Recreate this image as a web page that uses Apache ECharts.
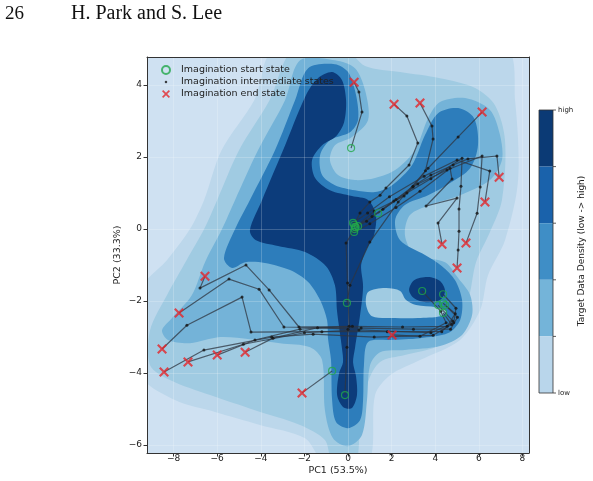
<!DOCTYPE html>
<html lang="en">
<head>
<meta charset="UTF-8">
<title>Imagination trajectories on PCA density</title>
<script src="https://cdn.jsdelivr.net/npm/echarts/dist/echarts.min.js"></script>
<style>
  html, body { margin: 0; background: #fff; }
  #chart { width: 593px; height: 481px; }
</style>
</head>
<body>
<div id="chart"></div>
<script>
// density contour regions (PC1, PC2), lowest level first
var contourBase = [[-9.6, -6.6], [8.7, -6.6], [8.7, 5.2], [-9.6, 5.2]];
var contourL1 = [[-3.3, 5.0], [7.2, 5.0], [7.66, 3.58], [7.8, 1.36], [7.2, -0.31], [6.42, -1.28], [6.06, -2.25], [5.14, -3.08], [3.3, -3.64], [1.93, -4.06], [1.24, -4.61], [0.92, -6.5], [-1.06, -6.5], [-1.97, -5.81], [-4.04, -5.44], [-6.1, -5.08], [-7.94, -4.75], [-9.5, -4.05], [-9.5, -1.69], [-8.3, -0.86], [-7.25, 0], [-6.6, 0.81], [-5.8, 2.19], [-4.3, 3.58]];
var contourL2 = [[-2.5, 5.0], [-0.14, 5.0], [0.78, 4.53], [2.39, 4.36], [4.22, 4.19], [5.83, 3.92], [6.74, 3.44], [7.2, 2.47], [7.06, 0.81], [6.51, -0.08], [5.87, -0.92], [5.6, -1.75], [5.23, -2.58], [4.22, -3.22], [2.61, -3.5], [1.47, -3.69], [0.92, -4.25], [0.55, -5.58], [0.32, -6.5], [-0.69, -6.5], [-1.06, -5.86], [-2.2, -5.44], [-4.27, -5.03], [-6.33, -4.61], [-8.17, -4.19], [-9.08, -3.78], [-9.08, -2.81], [-8.3, -1.83], [-7.4, -0.86], [-6.6, 0], [-6.0, 0.81], [-5.0, 2.19], [-3.6, 3.58]];
var contourL3 = [[-2.2, 4.69], [-0.6, 4.69], [0.32, 4.47], [0.78, 3.86], [0.92, 3.03], [0.18, 2.56], [-0.6, 2.33], [-0.83, 1.92], [-0.46, 1.5], [0.32, 1.36], [1.24, 1.42], [2.16, 1.64], [3.07, 2.19], [3.67, 3.08], [4.22, 3.53], [5.37, 3.64], [6.51, 3.31], [6.97, 2.61], [7.06, 1.92], [6.51, 1.36], [5.14, 0.94], [3.76, 0.67], [2.84, 0.39], [2.61, -0.17], [3.07, -0.72], [4.45, -0.92], [5.05, -1.36], [5.6, -1.83], [5.69, -2.39], [5.23, -2.94], [4.22, -3.25], [2.61, -3.36], [1.47, -3.42], [1.01, -3.78], [0.87, -4.75], [0.64, -5.72], [0, -6.03], [-0.69, -5.81], [-1.06, -5.03], [-1.19, -3.64], [-1.74, -3.28], [-3.12, -3.17], [-4.5, -3.06], [-5.87, -3.0], [-7.25, -3.17], [-8.26, -3.08], [-8.53, -2.81], [-8.07, -2.47], [-7.16, -1.83], [-6.56, -0.92], [-5.78, 0], [-5.18, 0.81], [-4.13, 2.19], [-2.89, 3.58]];
var contourL4 = [[-1.83, 4.47], [-0.6, 4.58], [0, 4.36], [0.37, 3.72], [0.46, 3.03], [0.09, 2.69], [-0.83, 2.47], [-1.28, 2.06], [-1.19, 1.5], [-0.6, 1.22], [0.32, 1.08], [1.24, 1.03], [2.02, 1.22], [2.94, 1.78], [3.53, 2.61], [4.13, 3.22], [5.05, 3.36], [5.78, 3.08], [5.96, 2.33], [5.6, 1.69], [4.68, 1.28], [3.67, 0.94], [2.61, 0.67], [2.16, 0.25], [2.39, -0.31], [3.53, -0.72], [4.31, -1.03], [4.91, -1.42], [5.23, -1.97], [5.14, -2.53], [4.59, -2.89], [3.3, -3.03], [1.93, -3.08], [0.92, -3.14], [0.73, -3.78], [0.69, -4.75], [0.55, -5.31], [0, -5.53], [-0.55, -5.36], [-0.73, -4.75], [-0.78, -3.64], [-0.92, -3.03], [-0.96, -2.53], [-1.28, -1.97], [-1.83, -1.47], [-2.66, -1.14], [-3.81, -0.94], [-4.72, -0.92], [-5.32, -1.08], [-5.69, -0.81], [-5.18, 0], [-4.5, 0.81], [-3.35, 2.19], [-2.43, 3.58]];
var gapHole = [[0.92, -1.75], [1.7, -1.64], [2.39, -1.72], [2.66, -1.97], [3.12, -2.11], [4.04, -2.17], [4.5, -2.28], [4.22, -2.42], [3.21, -2.47], [2.16, -2.47], [1.1, -2.42], [0.83, -2.11]];
var contourL5 = [[-1.38, 4.19], [-0.73, 4.36], [-0.28, 4.14], [-0.09, 3.58], [-0.18, 2.97], [-0.55, 2.58], [-1.19, 2.33], [-1.65, 1.92], [-1.51, 1.42], [-0.83, 1.08], [0.18, 0.92], [0.92, 0.81], [1.28, 0.39], [1.19, -0.17], [0.83, -0.58], [0.6, -1.0], [0.69, -1.6], [0.55, -2.4], [0.32, -3.3], [0.23, -3.7], [0.37, -4.1], [0.41, -4.61], [0.18, -4.97], [-0.23, -4.94], [-0.5, -4.61], [-0.41, -4.0], [-0.23, -3.7], [-0.28, -3.3], [-0.5, -2.3], [-0.6, -1.56], [-1.01, -1.03], [-1.97, -0.64], [-3.21, -0.47], [-4.22, -0.31], [-4.5, -0.03], [-3.94, 0.81], [-2.98, 2.19], [-1.93, 3.72]];
var navyHook = [[2.8, -1.69], [3.03, -1.42], [3.67, -1.33], [4.22, -1.44], [4.45, -1.72], [4.22, -1.97], [3.58, -2.03], [3.03, -1.92]];

// imagination trajectories: first point = start, last point = end
var trajA = [[0.14, 2.25], [0.64, 3.25], [0.5, 3.81], [0.28, 4.08]];
var trajU1 = [[0.28, 0.12], [0.55, 0.45], [1.0, 0.75], [1.47, 0.94], [1.74, 1.14], [2.8, 1.78], [3.2, 2.39], [2.7, 3.14], [2.11, 3.47]];
var trajU2 = [[0.35, 0.05], [1.2, 0.5], [2.57, 0.92], [2.98, 1.17], [3.55, 1.62], [3.9, 2.5], [3.85, 2.86], [3.3, 3.5]];
var trajL = [[-0.05, -2.05], [0.09, -1.56], [1.0, -0.36], [2.3, 0.75], [3.67, 1.69], [5.05, 2.56], [6.15, 3.25]];
var trajR1 = [[0.32, 0.06], [0.85, 0.22], [1.6, 0.55], [2.7, 1.0], [3.8, 1.4], [5.23, 1.97], [5.18, 1.19], [5.09, 0.56], [5.09, -0.06], [5.05, -0.58], [5.0, -1.08]];
var trajR2 = [[0.46, 0.08], [1.1, 0.35], [2.1, 0.78], [3.2, 1.25], [4.54, 1.64], [6.15, 2.03], [6.06, 1.17], [5.92, 0.44], [5.41, -0.39]];
var trajR3 = [[1.38, 0.44], [2.2, 0.82], [2.98, 1.19], [3.8, 1.5], [4.82, 1.78], [5.5, 1.95], [6.83, 2.03], [6.93, 1.44]];
var trajR4 = [[0.23, 0.17], [0.9, 0.45], [1.9, 0.9], [3.49, 1.47], [5.0, 1.92], [6.5, 1.61], [6.28, 0.75]];
var trajR5 = [[0.28, -0.08], [1.0, 0.15], [2.2, 0.6], [3.3, 1.05], [4.68, 1.69], [4.77, 1.39], [3.58, 0.64], [5.0, 0.86], [4.13, 0.17], [4.31, -0.42]];
var trajV1 = [[-0.14, -4.61], [-0.05, -3.28], [0.0, -2.78], [-1.4, -2.74], [-3.44, -3.03], [-4.72, -3.42]];
var trajV2 = [[0.3, 0.0], [-0.09, -0.39], [-0.02, -1.5], [0.05, -2.7], [-2.2, -2.78], [-4.27, -3.08], [-6.0, -3.5]];
var trajH1 = [[4.36, -2.06], [4.92, -2.35], [4.55, -2.7], [2.5, -2.72], [0.2, -2.7], [-2.25, -2.72], [-3.62, -1.69], [-4.68, -1.0], [-6.79, -1.64], [-6.56, -1.31]];
var trajH2 = [[4.45, -2.11], [5.02, -2.45], [4.7, -2.78], [3.0, -2.78], [0.6, -2.75], [-2.94, -2.72], [-4.08, -1.67], [-5.46, -1.39], [-7.75, -2.33]];
var trajH3 = [[4.13, -2.11], [4.8, -2.55], [4.3, -2.85], [1.8, -2.85], [-1.2, -2.85], [-4.45, -2.86], [-4.86, -1.89], [-7.39, -2.67], [-8.53, -3.33]];
var trajH4 = [[4.36, -2.33], [4.75, -2.65], [3.9, -2.95], [1.2, -3.0], [-1.6, -2.92], [-3.5, -3.0], [-6.61, -3.36], [-8.44, -3.97]];
var trajH5 = [[4.36, -1.81], [4.95, -2.2], [4.85, -2.6], [3.8, -2.88], [0.5, -2.8], [-2.0, -2.88], [-4.8, -3.2], [-7.34, -3.69]];
var trajH6 = [[3.4, -1.72], [4.25, -2.28], [4.5, -2.6], [3.3, -2.98], [2.02, -2.94]];
var trajB = [[-0.73, -3.94], [-2.11, -4.55]];

var trajectories = [trajA, trajU1, trajU2, trajL, trajR1, trajR2, trajR3, trajR4, trajR5,
  trajV1, trajV2, trajH1, trajH2, trajH3, trajH4, trajH5, trajH6, trajB];

var colorbarLevels = ['high', 'low'];

var startPts = trajectories.map(t => t[0]);
var endPts = trajectories.map(t => t[t.length - 1]);
var midPts = [];
trajectories.forEach(t => { midPts = midPts.concat(t.slice(1, t.length - 1)); });

var regions = [
  [contourBase, '#cfe1f2'],
  [contourL1, '#bcd7eb'],
  [contourL2, '#a0cbe2'],
  [contourL3, '#74b3d8'],
  [contourL4, '#2d7dbb'],
  [gapHole, '#a0cbe2'],
  [contourL5, '#0c3c7b'],
  [navyHook, '#0c3c7b']
];

var FONT = '"DejaVu Sans", sans-serif';
var xPath = 'path://M1.5,0 L5,3.5 L8.5,0 L10,1.5 L6.5,5 L10,8.5 L8.5,10 L5,6.5 L1.5,10 L0,8.5 L3.5,5 L0,1.5 Z';
var dotIcon = 'path://M5,5 m-1.6,0 a1.6,1.6 0 1,0 3.2,0 a1.6,1.6 0 1,0 -3.2,0 Z M0,0 L0.01,0 Z M10,10 L10.01,10 Z';

function fmtTick(v) {
  if (Math.abs(v / 2 - Math.round(v / 2)) > 1e-6) return '';
  return v < 0 ? '\u2212' + (-v) : '' + v;
}

var series = regions.map(function (r) {
  var pts = r[0], fill = r[1];
  return {
    type: 'custom', silent: true, z: -1, clip: true,
    data: [[pts[0][0], pts[0][1]]],
    renderItem: function (params, api) {
      return {
        type: 'polygon',
        shape: { points: pts.map(p => api.coord(p)), smooth: 0.3 },
        style: { fill: fill }
      };
    }
  };
});

trajectories.forEach(function (t) {
  series.push({
    type: 'line', data: t, showSymbol: false, silent: true, z: 3,
    lineStyle: { color: '#2f3640', width: 1.2, opacity: 0.75 }
  });
});

series.push({
  name: 'Imagination start state', type: 'scatter', data: startPts, z: 6,
  symbol: 'circle', symbolSize: 7,
  itemStyle: { color: 'rgba(0,0,0,0)', borderColor: '#22a84a', borderWidth: 1.2 }
});
series.push({
  name: 'Imagination intermediate states', type: 'scatter', data: midPts, z: 5,
  symbol: 'circle', symbolSize: 3,
  itemStyle: { color: '#151515' }
});
series.push({
  name: 'Imagination end state', type: 'scatter', data: endPts, z: 7,
  symbol: xPath, symbolSize: 10,
  itemStyle: { color: '#e3262b' }
});

// colorbar (matplotlib style)
var cbColors = ['#0b3a75', '#1a62ab', '#3f8ec6', '#74b4d9', '#b9d6eb'];
var cbTop = 110, cbH = 283, cbX = 539, cbW = 14;
var graphic = [];
cbColors.forEach(function (c, i) {
  graphic.push({ type: 'rect', shape: { x: cbX, y: cbTop + i * cbH / 5, width: cbW, height: cbH / 5 }, style: { fill: c } });
  graphic.push({ type: 'line', shape: { x1: cbX + cbW, y1: cbTop + i * cbH / 5, x2: cbX + cbW + 3, y2: cbTop + i * cbH / 5 }, style: { stroke: '#333', lineWidth: 0.8 } });
});
graphic.push({ type: 'line', shape: { x1: cbX + cbW, y1: cbTop + cbH, x2: cbX + cbW + 3, y2: cbTop + cbH }, style: { stroke: '#333', lineWidth: 0.8 } });
graphic.push({ type: 'rect', shape: { x: cbX, y: cbTop, width: cbW, height: cbH }, style: { fill: 'none', stroke: '#333', lineWidth: 0.8 } });
graphic.push({ type: 'text', x: cbX + cbW + 5, y: cbTop, style: { text: colorbarLevels[0], font: '7px ' + FONT, fill: '#222', verticalAlign: 'middle' } });
graphic.push({ type: 'text', x: cbX + cbW + 5, y: cbTop + cbH, style: { text: colorbarLevels[1], font: '7px ' + FONT, fill: '#222', verticalAlign: 'middle' } });
graphic.push({ type: 'text', x: 582, y: 251, rotation: Math.PI / 2, style: { text: 'Target Data Density (low -> high)', font: '9px ' + FONT, fill: '#222', align: 'center', verticalAlign: 'middle' } });
// page header
graphic.push({ type: 'text', x: 5, y: 14, style: { text: '26', font: '19px "Liberation Serif", serif', fill: '#111', verticalAlign: 'middle' } });
graphic.push({ type: 'text', x: 71, y: 14, style: { text: 'H. Park and S. Lee', font: '20px "Liberation Serif", serif', fill: '#111', verticalAlign: 'middle' } });

var axisCommon = {
  type: 'value',
  axisLine: { show: true, onZero: false, lineStyle: { color: '#333', width: 1 } },
  axisTick: { show: true, length: 3.5, lineStyle: { color: '#333' } },
  axisLabel: { fontSize: 9, color: '#222', fontFamily: FONT, formatter: fmtTick, showMinLabel: false, showMaxLabel: false },
  splitLine: { show: true, lineStyle: { color: 'rgba(255,255,255,0.25)', width: 0.8 } }
};

var chart = echarts.init(document.getElementById('chart'), null, { renderer: 'canvas' });
chart.setOption({
  animation: false,
  backgroundColor: '#fff',
  grid: { left: 147, right: 64, top: 57, bottom: 28, containLabel: false, outerBoundsMode: 'none' },
  legend: {
    orient: 'vertical', left: 156, top: 60, itemWidth: 20, itemHeight: 8, itemGap: 2,
    textStyle: { fontSize: 9.5, color: '#222', fontFamily: FONT },
    data: [
      { name: 'Imagination start state', icon: 'circle' },
      { name: 'Imagination intermediate states', icon: dotIcon },
      { name: 'Imagination end state', icon: xPath }
    ],
    selectedMode: false
  },
  xAxis: [
    Object.assign({}, axisCommon, {
      min: -9.22, max: 8.3, splitNumber: 9,
      name: 'PC1 (53.5%)', nameLocation: 'middle', nameGap: 13, nameMoveOverlap: false,
      nameTextStyle: { fontSize: 9.5, color: '#222', fontFamily: FONT, verticalAlign: 'top' },
      axisLabel: Object.assign({}, axisCommon.axisLabel, { margin: 1 })
    }),
    { type: 'value', position: 'top', min: -9.22, max: 8.3, axisLine: { show: true, onZero: false, lineStyle: { color: '#333' } }, axisTick: { show: false }, axisLabel: { show: false }, splitLine: { show: false } }
  ],
  yAxis: [
    Object.assign({}, axisCommon, {
      min: -6.22, max: 4.78, splitNumber: 6,
      name: 'PC2 (33.3%)', nameLocation: 'middle', nameGap: 24, nameMoveOverlap: false,
      nameTextStyle: { fontSize: 9.5, color: '#222', fontFamily: FONT },
      axisLabel: Object.assign({}, axisCommon.axisLabel, { margin: 5 })
    }),
    { type: 'value', position: 'right', min: -6.22, max: 4.78, axisLine: { show: true, onZero: false, lineStyle: { color: '#333' } }, axisTick: { show: false }, axisLabel: { show: false }, splitLine: { show: false } }
  ],
  graphic: graphic,
  series: series
});
</script>
</body>
</html>
